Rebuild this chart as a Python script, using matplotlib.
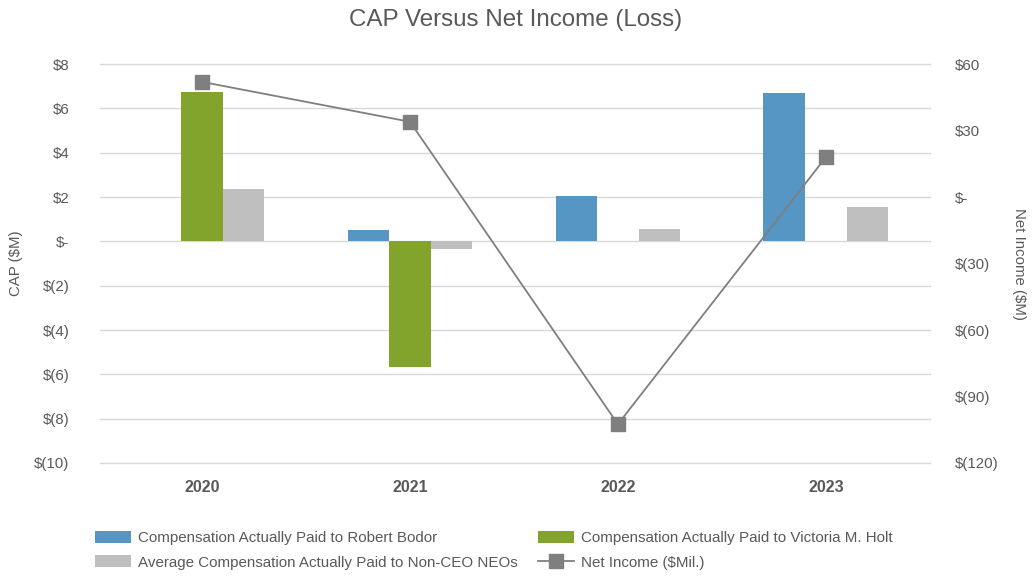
import numpy as np
import matplotlib
matplotlib.use("Agg")
import matplotlib.pyplot as plt
from matplotlib.ticker import FuncFormatter

years = ["2020", "2021", "2022", "2023"]
bodor = [np.nan, 0.50, 2.04, 6.70]
holt = [6.74, -5.66, np.nan, np.nan]
non_ceo = [2.35, -0.36, 0.54, 1.54]
net_income = [52.0, 34.0, -102.5, 18.0]

left_ticks = [8, 6, 4, 2, 0, -2, -4, -6, -8, -10]
right_ticks = [60, 30, 0, -30, -60, -90, -120]

c_blue = "#5596C4"
c_green = "#83A42C"
c_gray = "#BFBFBF"
c_line = "#7F7F7F"
c_text = "#595959"
c_grid = "#D9D9D9"

plt.rcParams['font.family'] = ['Liberation Sans', 'DejaVu Sans']

fig = plt.figure(figsize=(10.32, 5.78), dpi=100)
ax = fig.add_axes([0.097, 0.199, 0.804, 0.690])
ax2 = ax.twinx()

x = np.arange(len(years))
w = 0.2
ax.bar(x - w, bodor, w, color=c_blue, label="Compensation Actually Paid to Robert Bodor", zorder=3)
ax.bar(x, holt, w, color=c_green, label="Compensation Actually Paid to Victoria M. Holt", zorder=3)
ax.bar(x + w, non_ceo, w, color=c_gray, label="Average Compensation Actually Paid to Non-CEO NEOs", zorder=3)

ax2.plot(x, net_income, color=c_line, lw=1.3, marker="s", markersize=10,
         markerfacecolor=c_line, markeredgecolor=c_line, label="Net Income ($Mil.)", zorder=4)

ax.set_xlim(-0.49, 3.5)
ax.set_ylim(-10, 8)
ax2.set_ylim(-120, 60)
ax.set_yticks(left_ticks)
ax2.set_yticks(right_ticks)

def fmt(v, pos):
    v = int(round(v))
    if v == 0:
        return "$-"
    if v < 0:
        return "$(%d)" % (-v)
    return "$%d" % v

ax.yaxis.set_major_formatter(FuncFormatter(fmt))
ax2.yaxis.set_major_formatter(FuncFormatter(fmt))

ax.set_xticks(x)
ax.set_xticklabels(years, fontweight="bold")
ax.grid(axis="y", color=c_grid, lw=1.0, zorder=0)
ax.set_axisbelow(True)
for gl in ax.get_ygridlines():
    gl.set_clip_on(False)

for a in (ax, ax2):
    for s in a.spines.values():
        s.set_visible(False)
    a.tick_params(length=0, labelsize=10.8, colors=c_text)
ax.tick_params(axis="y", pad=22)
ax2.tick_params(axis="y", pad=18)
ax.tick_params(axis="x", pad=12, labelsize=11.5)

ax.set_ylabel("CAP ($M)", color=c_text, fontsize=10.8, labelpad=8)
ax2.set_ylabel("Net Income ($M)", color=c_text, fontsize=10.8, rotation=-90, labelpad=20)

fig.text(0.5, 0.966, "CAP Versus Net Income (Loss)", ha="center", va="center",
         fontsize=17.4, color=c_text)

h1, l1 = ax.get_legend_handles_labels()
h2, l2 = ax2.get_legend_handles_labels()
handles = [h1[0], h1[2], h1[1], h2[0]]
labels = [l1[0], l1[2], l1[1], l2[0]]
leg = fig.legend(handles, labels, loc="upper left", bbox_to_anchor=(95 / 1032, 1 - 531 / 578),
                 ncol=2, frameon=False, fontsize=10.9, labelcolor=c_text,
                 handlelength=2.4, handleheight=0.85, columnspacing=1.3,
                 labelspacing=0.66, handletextpad=0.46, borderpad=0, borderaxespad=0)

fig.savefig("out.png", dpi=100)
